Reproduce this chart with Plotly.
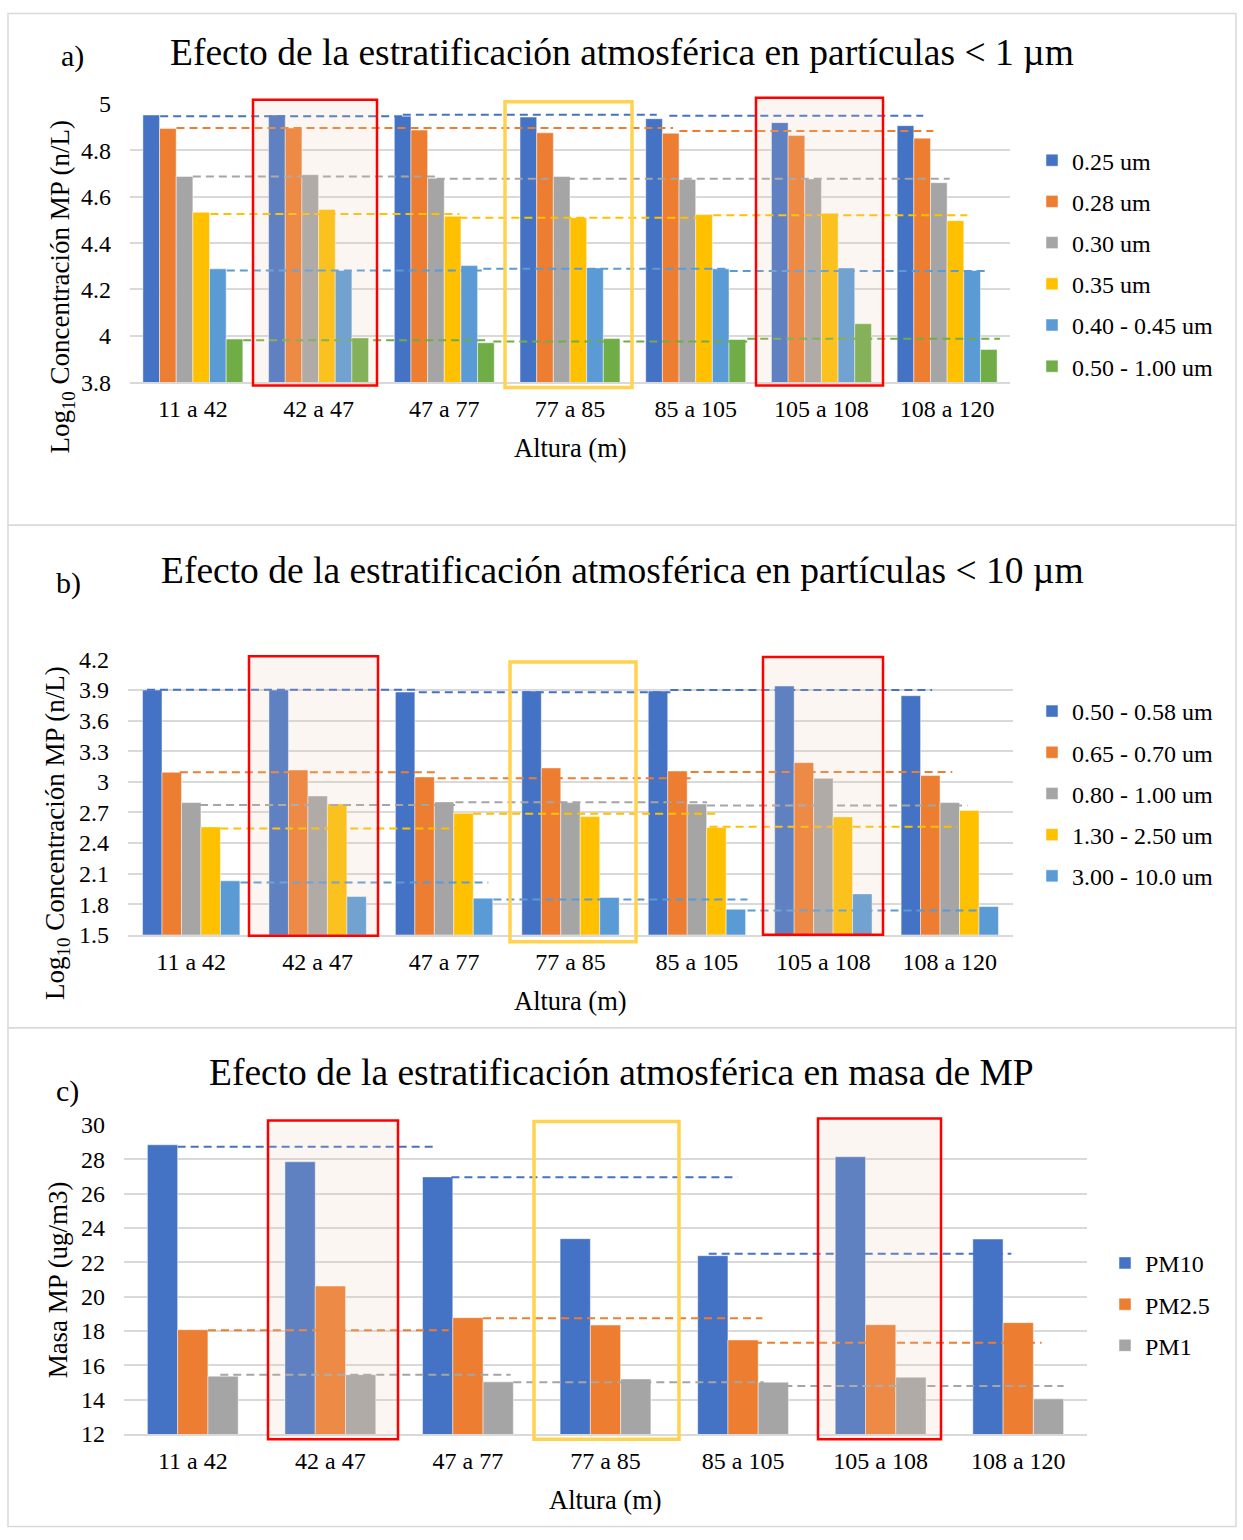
import plotly.graph_objects as go

W, H = 1243, 1540
FONT = "Liberation Serif, Times New Roman, serif"

# ---------------- data ----------------
groups = ["11 a 42", "42 a 47", "47 a 77", "77 a 85", "85 a 105", "105 a 108", "108 a 120"]

# Panel a: log10 concentration, particles < 1 um
a_names = ["0.25 um", "0.28 um", "0.30 um", "0.35 um", "0.40 - 0.45 um", "0.50 - 1.00 um"]
a_025 = [4.953, 4.953, 4.948, 4.944, 4.937, 4.920, 4.907]
a_028 = [4.895, 4.897, 4.888, 4.876, 4.874, 4.864, 4.853]
a_030 = [4.688, 4.695, 4.680, 4.687, 4.675, 4.677, 4.661]
a_035 = [4.533, 4.545, 4.516, 4.510, 4.523, 4.529, 4.497]
a_040 = [4.289, 4.282, 4.303, 4.293, 4.289, 4.293, 4.282]
a_050 = [3.986, 3.991, 3.970, 3.988, 3.984, 4.052, 3.941]

# reference dashed segments (start group pos, end group pos, level)
a_ref_025 = [(-0.26, 1.67, 4.948), (1.67, 3.69, 4.954), (3.79, 5.81, 4.950)]
a_ref_028 = [(-0.13, 3.82, 4.897), (3.87, 5.89, 4.884)]
a_ref_030 = [(0.00, 1.94, 4.687), (1.94, 6.02, 4.678)]
a_ref_035 = [(0.14, 2.12, 4.526), (2.12, 4.06, 4.510), (4.14, 6.16, 4.520)]
a_ref_040 = [(0.27, 2.31, 4.282), (2.31, 4.27, 4.289), (4.27, 6.33, 4.280)]
a_ref_050 = [(0.40, 2.34, 3.981), (2.39, 4.41, 3.975), (4.41, 6.42, 3.987)]

# Panel b: log10 concentration, particles < 10 um
b_names = ["0.50 - 0.58 um", "0.65 - 0.70 um", "0.80 - 1.00 um", "1.30 - 2.50 um", "3.00 - 10.0 um"]
b_058 = [3.900, 3.900, 3.880, 3.890, 3.890, 3.939, 3.844]
b_070 = [3.093, 3.116, 3.048, 3.136, 3.106, 3.188, 3.061]
b_100 = [2.796, 2.861, 2.803, 2.796, 2.783, 3.034, 2.796]
b_250 = [2.558, 2.783, 2.692, 2.659, 2.551, 2.656, 2.718]
b_1000 = [2.029, 1.875, 1.859, 1.866, 1.751, 1.901, 1.777]

b_ref_058 = [(-0.35, 1.80, 3.903), (1.80, 3.79, 3.877), (3.79, 5.86, 3.900)]
b_ref_070 = [(-0.09, 1.95, 3.093), (1.95, 3.95, 3.034), (3.95, 6.02, 3.096)]
b_ref_100 = [(0.07, 2.09, 2.773), (2.09, 4.08, 2.800), (4.08, 6.14, 2.767)]
b_ref_250 = [(0.23, 2.13, 2.541), (2.23, 4.18, 2.688), (4.10, 6.06, 2.560)]
b_ref_1000 = [(0.39, 2.35, 2.012), (2.39, 4.40, 1.846), (4.40, 6.24, 1.738)]

# Panel c: PM mass
c_names = ["PM10", "PM2.5", "PM1"]
c_pm10 = [28.84, 27.85, 26.97, 23.37, 22.38, 28.14, 23.35]
c_pm25 = [18.07, 20.61, 18.77, 18.34, 17.47, 18.36, 18.48]
c_pm1 = [15.36, 15.45, 15.03, 15.20, 15.01, 15.30, 14.04]

c_ref_pm10 = [(-0.11, 1.78, 28.73), (1.88, 3.96, 26.95), (3.75, 5.95, 22.49)]
c_ref_pm25 = [(0.11, 1.86, 18.03), (2.11, 4.14, 18.73), (4.08, 6.17, 17.31)]
c_ref_pm1 = [(0.20, 2.31, 15.45), (2.33, 4.15, 15.01), (4.30, 6.33, 14.79)]

# ---------------- styling ----------------
BLUE, ORANGE, GRAY, YELLOW, LBLUE, GREEN = "#4472C4", "#ED7D31", "#A5A5A5", "#FFC000", "#5B9BD5", "#70AD47"
GRID = "#D9D9D9"


def px(x):
    return x / W


def py(y):
    # vertical pixel (as seen in the photographed page) -> paper fraction
    yy = (y - 12.1) / 0.9843
    yy = min(max(yy, 0.5), H - 0.5)
    return 1 - yy / H


fig = go.Figure()
xpos = list(range(len(groups)))


def add_panel(series, names, colors, refs, xa, ya, leg, cluster):
    n = len(series)
    w = cluster / n
    for i, (vals, nm, col) in enumerate(zip(series, names, colors)):
        fig.add_trace(go.Bar(
            x=xpos, y=vals, name=nm, width=w, offset=-cluster / 2 + i * w,
            marker=dict(color=col, line=dict(color="rgba(255,255,255,0.6)", width=0.8)),
            xaxis=xa, yaxis=ya, legend=leg, legendgroup=leg + nm,
            hoverinfo="y+name"))
    for ref, col in zip(refs, colors):
        xs, ys = [], []
        for (x0, x1, lv) in ref:
            xs += [x0, x1, None]
            ys += [lv, lv, None]
        fig.add_trace(go.Scatter(
            x=xs, y=ys, mode="lines", showlegend=False, hoverinfo="skip",
            line=dict(color=col, width=2, dash="8px,5px"),
            xaxis=xa, yaxis=ya))


add_panel([a_025, a_028, a_030, a_035, a_040, a_050], a_names,
          [BLUE, ORANGE, GRAY, YELLOW, LBLUE, GREEN],
          [a_ref_025, a_ref_028, a_ref_030, a_ref_035, a_ref_040, a_ref_050],
          "x", "y", "legend", 0.795)
add_panel([b_058, b_070, b_100, b_250, b_1000], b_names,
          [BLUE, ORANGE, GRAY, YELLOW, LBLUE],
          [b_ref_058, b_ref_070, b_ref_100, b_ref_250, b_ref_1000],
          "x2", "y2", "legend2", 0.77)
add_panel([c_pm10, c_pm25, c_pm1], c_names,
          [BLUE, ORANGE, GRAY],
          [c_ref_pm10, c_ref_pm25, c_ref_pm1],
          "x3", "y3", "legend3", 0.66)

TICKF = dict(family=FONT, size=24, color="#000")


def xaxis_cfg(dom, anchor):
    return dict(domain=dom, anchor=anchor, range=[-0.5, len(groups) - 0.5],
                tickmode="array", tickvals=xpos, ticktext=groups,
                showgrid=False, zeroline=False, showline=True, linecolor=GRID, linewidth=2,
                ticks="", tickfont=TICKF, ticklabelstandoff=4, fixedrange=True)


def yaxis_cfg(dom, anchor, rng, dtick):
    return dict(domain=dom, anchor=anchor, range=rng, tick0=rng[0], dtick=dtick,
                showgrid=True, gridcolor=GRID, gridwidth=2, zeroline=False, showline=False,
                ticks="", tickfont=TICKF, ticklabelstandoff=18, fixedrange=True)


fig.update_layout(
    width=W, height=H, margin=dict(l=0, r=0, t=0, b=0),
    paper_bgcolor="white", plot_bgcolor="white",
    barmode="overlay", font=dict(family=FONT, color="#000"),
    xaxis=xaxis_cfg([px(130), px(1010)], "y"),
    yaxis=yaxis_cfg([py(381.7), py(103.3)], "x", [3.8, 5.0], 0.2),
    xaxis2=xaxis_cfg([px(128), px(1013)], "y2"),
    yaxis2=yaxis_cfg([py(935), py(659.3)], "x2", [1.5, 4.2], 0.3),
    xaxis3=xaxis_cfg([px(124), px(1087)], "y3"),
    yaxis3=yaxis_cfg([py(1434.7), py(1125.3)], "x3", [12, 30], 2),
)

LEGF = dict(family=FONT, size=24, color="#000")
fig.update_layout(
    legend=dict(x=px(1032), y=py(263), xanchor="left", yanchor="middle", font=LEGF,
                tracegroupgap=7, bgcolor="rgba(0,0,0,0)"),
    legend2=dict(x=px(1032), y=py(793.5), xanchor="left", yanchor="middle", font=LEGF,
                 tracegroupgap=7, bgcolor="rgba(0,0,0,0)"),
    legend3=dict(x=px(1105), y=py(1305), xanchor="left", yanchor="middle", font=LEGF,
                 tracegroupgap=7, bgcolor="rgba(0,0,0,0)"),
)

shapes = []
# panel borders
for (y0, y1) in [(8, 525), (525, 1028), (1028, 1532)]:
    shapes.append(dict(type="rect", xref="paper", yref="paper", x0=px(8), x1=px(1236),
                       y0=py(y1), y1=py(y0), line=dict(color="#D9D9D9", width=1.5),
                       fillcolor="rgba(0,0,0,0)", layer="below"))

RED_FILL = "rgba(230,200,175,0.17)"
red_boxes = [(253, 377, 99, 385), (756, 883, 97, 385),
             (249, 378, 656, 936), (763, 883, 657, 935),
             (268, 398, 1121, 1440), (818, 941, 1119, 1440)]
for (x0, x1, y0, y1) in red_boxes:
    shapes.append(dict(type="rect", xref="paper", yref="paper", x0=px(x0), x1=px(x1),
                       y0=py(y1), y1=py(y0), line=dict(color="#FF0000", width=2.5),
                       fillcolor=RED_FILL, layer="above"))
yellow_boxes = [(505, 632, 101, 387), (510, 636, 662, 942), (534, 679, 1122, 1440)]
for (x0, x1, y0, y1) in yellow_boxes:
    shapes.append(dict(type="rect", xref="paper", yref="paper", x0=px(x0), x1=px(x1),
                       y0=py(y1), y1=py(y0), line=dict(color="#FFD34F", width=3.5),
                       fillcolor="rgba(0,0,0,0)", layer="above"))
fig.update_layout(shapes=shapes)

ann = []


def text(x, y, s, size, angle=0):
    ann.append(dict(x=px(x), y=py(y), xref="paper", yref="paper", text=s, showarrow=False,
                    xanchor="center", yanchor="middle", textangle=angle,
                    font=dict(family=FONT, size=size, color="#000")))


text(622, 52, "Efecto de la estratificación atmosférica en partículas &lt; 1 µm", 37.5)
text(622, 570, "Efecto de la estratificación atmosférica en partículas &lt; 10 µm", 37.5)
text(621, 1073, "Efecto de la estratificación atmosférica en masa de MP", 37.5)
text(72, 55, "a)", 30)
text(68, 583, "b)", 30)
text(67, 1091, "c)", 30)
text(62, 286, "Log<sub>10</sub> Concentración MP (n/L)", 27, -90)
text(57, 833, "Log<sub>10</sub> Concentración MP (n/L)", 27, -90)
text(58, 1281, "Masa MP (ug/m3)", 27, -90)
text(570, 448, "Altura (m)", 26.5)
text(570, 1001, "Altura (m)", 26.5)
text(605, 1501, "Altura (m)", 26.5)
fig.update_layout(annotations=ann)

fig.write_html("out.html",
               post_script="document.body.style.margin='0';document.body.style.overflow='hidden';")
